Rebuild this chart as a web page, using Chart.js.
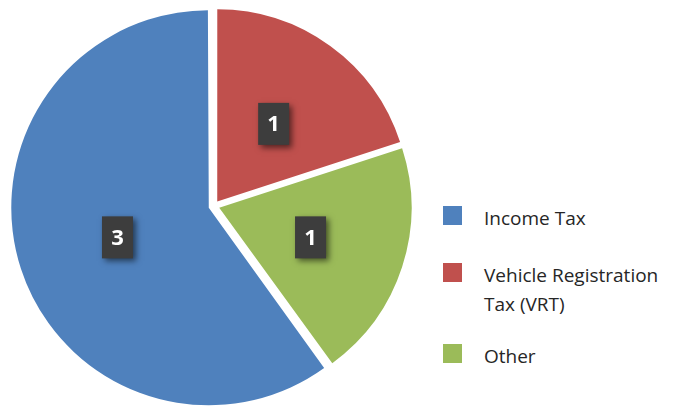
<!DOCTYPE html>
<html>
<head>
<meta charset="utf-8">
<script src="https://cdn.jsdelivr.net/npm/chart.js@4"></script>
<style>
  body { margin: 0; background: #fff; }
  #wrap { position: relative; width: 678px; height: 406px; overflow: hidden; }
  #pie { position: absolute; left: 0; top: 0; width: 428px; height: 406px; }
  #legend { position: absolute; left: 443px; top: 0; font-family: "Open Sans", sans-serif; font-size: 19px; color: #262626; }
  .item { position: absolute; left: 0; white-space: nowrap; }
  .item span.box { position: absolute; left: 0; top: 0; width: 19px; height: 19px; }
  .item div.txt { position: absolute; left: 41px; top: -2px; line-height: 29px; }
</style>
</head>
<body>
<div id="wrap">
  <div id="pie"><canvas id="myChart"></canvas></div>
  <div id="legend"></div>
</div>
<script>
// data
const categories = ['Income Tax', 'Vehicle Registration Tax (VRT)', 'Other']
const legendLines = [['Income Tax'], ['Vehicle Registration', 'Tax (VRT)'], ['Other']]
const values = [3, 1, 1]
const colours = ['#4f81bd', '#c0504d', '#9bbb59']

// dark boxes with the value inside each slice
const boxLabels = {
    id: 'boxLabels',
    afterDatasetsDraw(chart) {
        const ctx = chart.ctx
        const meta = chart.getDatasetMeta(0)
        meta.data.forEach((arc, i) => {
            const p = arc.getProps(['x', 'y', 'startAngle', 'endAngle', 'outerRadius'], true)
            const mid = (p.startAngle + p.endAngle) / 2
            const shift = arc.options.offset / 4
            const r = p.outerRadius * 0.5 + shift
            const cx = p.x + Math.cos(mid) * r
            const cy = p.y + Math.sin(mid) * r
            const w = 31, h = 42
            ctx.save()
            ctx.shadowColor = 'rgba(0,0,0,0.55)'
            ctx.shadowBlur = 6
            ctx.shadowOffsetX = 3
            ctx.shadowOffsetY = 3
            ctx.fillStyle = '#3d3d3d'
            ctx.fillRect(cx - w / 2, cy - h / 2, w, h)
            ctx.restore()
            ctx.save()
            ctx.fillStyle = '#ffffff'
            ctx.font = 'bold 22px "Open Sans", sans-serif'
            ctx.textAlign = 'center'
            ctx.textBaseline = 'middle'
            ctx.fillText(String(values[i]), cx, cy + 1)
            ctx.restore()
        })
    }
}

var ctx = document.getElementById('myChart')

var myChart = new Chart(ctx, {
    type: 'pie',
    data: {
        labels: categories,
        datasets: [{
            data: values,
            backgroundColor: colours,
            borderWidth: 0,
            offset: 22
        }]
    },
    options: {
        responsive: true,
        maintainAspectRatio: false,
        animation: false,
        events: [],
        rotation: 144,
        radius: 192,
        layout: { padding: { top: 6 } },
        plugins: {
            legend: { display: false },
            tooltip: { enabled: false }
        }
    },
    plugins: [boxLabels]
})

// legend on the right
const legendTops = [206, 263, 344]
const legend = document.getElementById('legend')
legendLines.forEach((lines, i) => {
    const item = document.createElement('div')
    item.className = 'item'
    item.style.top = legendTops[i] + 'px'
    const box = document.createElement('span')
    box.className = 'box'
    box.style.background = colours[i]
    item.appendChild(box)
    const txt = document.createElement('div')
    txt.className = 'txt'
    txt.innerHTML = lines.join('<br>')
    item.appendChild(txt)
    legend.appendChild(item)
})
</script>
</body>
</html>
